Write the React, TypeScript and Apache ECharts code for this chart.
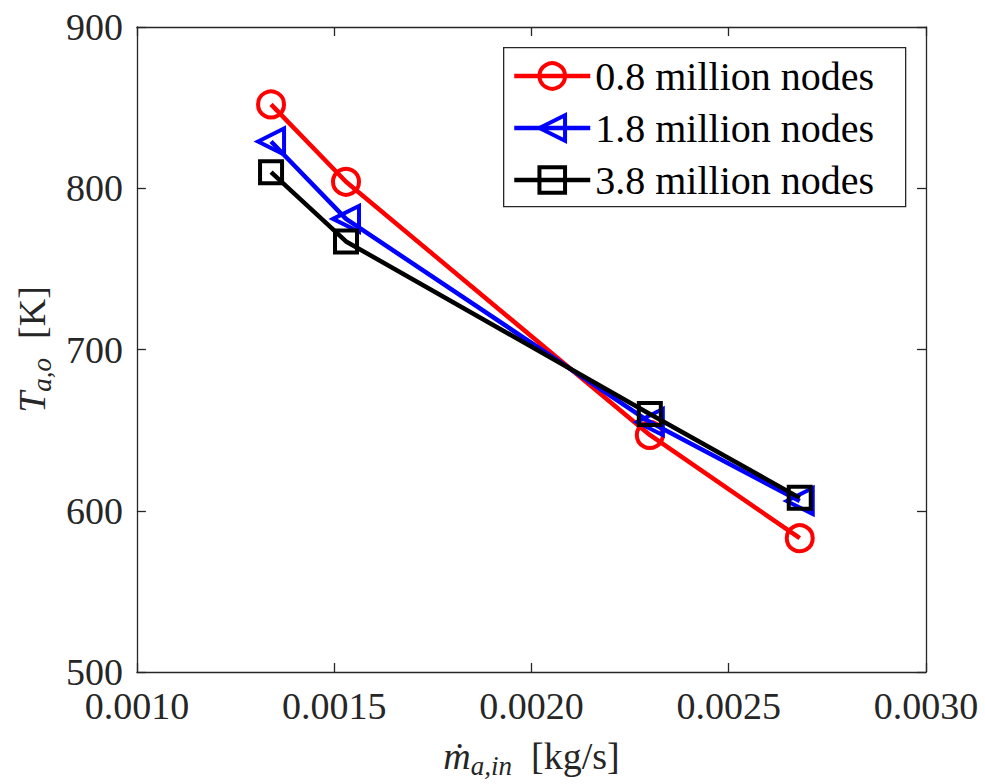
import React, { useEffect, useRef } from 'react';
import * as echarts from 'echarts';

const massFlow = [0.00134, 0.00153, 0.0023, 0.00268];
const nodes08 = [852, 804, 647, 583];
const nodes18 = [829, 781, 655, 606];
const nodes38 = [810, 767, 660, 608];
const seriesNames = ['0.8 million nodes', '1.8 million nodes', '3.8 million nodes'];
const seriesColors = ['#ff0000', '#0000ff', '#000000'];
const seriesSymbols = ['circle', 'triangle', 'rect'];
const seriesRotate = [0, 90, 0];
const seriesSizes = [26, 26, 22];

const FONT = 'Liberation Serif';
const AX = '#262626';

export default function App() {
  const ref = useRef<HTMLDivElement>(null);
  useEffect(() => {
    if (!ref.current) return;
    const chart = echarts.init(ref.current, undefined, { renderer: 'svg' });
    const values = [nodes08, nodes18, nodes38];
    const series = values.map((vals, i) => ({
      name: seriesNames[i],
      type: 'line',
      xAxisIndex: 0,
      yAxisIndex: 0,
      data: massFlow.map((x, j) => [x, vals[j]]),
      symbol: seriesSymbols[i],
      symbolSize: seriesSizes[i],
      symbolRotate: seriesRotate[i],
      showAllSymbol: true,
      color: seriesColors[i],
      lineStyle: { color: seriesColors[i], width: 4.5 },
      itemStyle: { color: 'rgba(255,255,255,0)', borderColor: seriesColors[i], borderWidth: 4 },
      z: 2 + i * 0.1,
    }));
    const axisCommonX = {
      type: 'value',
      min: 0.001,
      max: 0.003,
      interval: 0.0005,
      splitLine: { show: false },
      axisLine: { show: true, lineStyle: { color: AX, width: 1.3 } },
      axisTick: { show: true, inside: true, length: 9, lineStyle: { color: AX, width: 1.3 } },
    };
    const axisCommonY = {
      type: 'value',
      min: 500,
      max: 900,
      interval: 100,
      splitLine: { show: false },
      axisLine: { show: true, lineStyle: { color: AX, width: 1.3 } },
      axisTick: { show: true, inside: true, length: 9, lineStyle: { color: AX, width: 1.3 } },
    };
    const rich = {
      m: { fontFamily: FONT, fontSize: 38, fontStyle: 'italic', color: AX, lineHeight: 48, verticalAlign: 'middle' },
      sub: { fontFamily: FONT, fontSize: 27, fontStyle: 'italic', color: AX, lineHeight: 28, verticalAlign: 'top', padding: [20, 0, 0, 0] },
      n: { fontFamily: FONT, fontSize: 38, color: AX, lineHeight: 48, verticalAlign: 'middle' },
    };
    const option: any = {
      animation: false,
      backgroundColor: '#ffffff',
      textStyle: { fontFamily: FONT },
      grid: { left: 132, top: 27, right: 59, bottom: 110, containLabel: false },
      xAxis: [
        {
          ...axisCommonX,
          position: 'bottom',
          axisLabel: {
            show: true,
            margin: 19,
            fontFamily: FONT,
            fontSize: 38,
            lineHeight: 30,
            color: AX,
            formatter: (v: number) => v.toFixed(4),
          },
          name: '{m|ṁ}{sub|a,in}{n|  [kg/s]}',
          nameLocation: 'middle',
          nameGap: 60,
          nameTextStyle: { fontFamily: FONT, color: AX, rich },
        },
        {
          ...axisCommonX,
          position: 'top',
          axisLabel: { show: false },
        },
      ],
      yAxis: [
        {
          ...axisCommonY,
          position: 'left',
          axisLabel: {
            show: true,
            margin: 14,
            fontFamily: FONT,
            fontSize: 38,
            lineHeight: 30,
            color: AX,
          },
          name: '{m|T}{sub|a,o}{n|  [K]}',
          nameLocation: 'middle',
          nameGap: 78,
          nameRotate: 90,
          nameTextStyle: { fontFamily: FONT, color: AX, rich },
        },
        {
          ...axisCommonY,
          position: 'right',
          axisLabel: { show: false },
        },
      ],
      legend: {
        orient: 'vertical',
        left: 512,
        top: 56,
        itemWidth: 76,
        itemHeight: 32,
        itemGap: 12,
        padding: 0,
        data: seriesNames,
        lineStyle: { width: 4.5 },
        itemStyle: { borderWidth: 4 },
        textStyle: { fontFamily: FONT, fontSize: 40, color: '#000', lineHeight: 32 },
        z: 5,
      },
      graphic: [
        {
          type: 'rect',
          left: 503,
          top: 47,
          shape: { width: 402, height: 159 },
          style: { fill: '#ffffff', stroke: AX, lineWidth: 1.3 },
          z: 3,
        },
      ],
      series,
    };
    chart.setOption(option);
    return () => chart.dispose();
  }, []);
  return <div ref={ref} style={{ width: 985, height: 784, position: 'absolute', left: 0, top: 0 }} />;
}
